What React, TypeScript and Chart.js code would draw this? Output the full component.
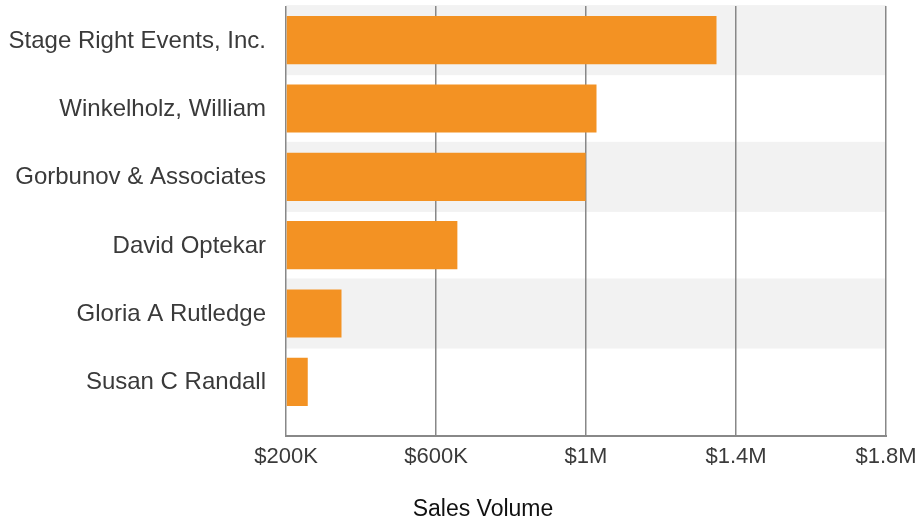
import React, { useEffect, useRef } from 'react';
import { Chart, registerables } from 'chart.js';

Chart.register(...registerables);

const categories = [
  'Stage Right Events, Inc.',
  'Winkelholz, William',
  'Gorbunov & Associates',
  'David Optekar',
  'Gloria A Rutledge',
  'Susan C Randall',
];
const salesVolume = [1348000, 1028000, 999000, 657000, 348000, 258000];
const xTickValues = [200000, 600000, 1000000, 1400000, 1800000];
const xTickLabels = ['$200K', '$600K', '$1M', '$1.4M', '$1.8M'];
const axisTitle = 'Sales Volume';

const FONT = '"Liberation Sans", Arial, Helvetica, sans-serif';
const BAR = '#F39223';
const BAND = '#F2F2F2';
const GRID = '#888888';
const TICK_EXT = 20;

export default function App() {
  const ref = useRef<HTMLCanvasElement | null>(null);

  useEffect(() => {
    if (!ref.current) return;

    const bandsPlugin = {
      id: 'bands',
      beforeDraw(chart: any) {
        const { ctx, chartArea, scales } = chart;
        const y = scales.y;
        const step = y.height / categories.length;
        const h = step * 1.025;
        ctx.save();
        ctx.fillStyle = BAND;
        categories.forEach((_, i) => {
          if (i % 2 === 0) {
            const c = y.getPixelForValue(i);
            ctx.fillRect(chartArea.left, c - h / 2, chartArea.right - chartArea.left, h);
          }
        });
        ctx.restore();
      },
    };

    const axisPlugin = {
      id: 'axisLineTitle',
      afterDraw(chart: any) {
        const { ctx, chartArea } = chart;
        const yLine = chartArea.bottom + TICK_EXT;
        ctx.save();
        ctx.strokeStyle = GRID;
        ctx.lineWidth = 2;
        ctx.beginPath();
        ctx.moveTo(chartArea.left - 1, yLine);
        ctx.lineTo(chartArea.right + 1, yLine);
        ctx.stroke();
        ctx.fillStyle = '#111111';
        ctx.font = `23px ${FONT}`;
        ctx.textAlign = 'center';
        ctx.textBaseline = 'alphabetic';
        ctx.fillText(axisTitle, 483, 516);
        ctx.restore();
      },
    };

    const chart = new Chart(ref.current, {
      type: 'bar',
      data: {
        labels: categories,
        datasets: [
          {
            data: salesVolume,
            backgroundColor: BAR,
            borderWidth: 0,
            base: 200000,
            barPercentage: 0.705,
            categoryPercentage: 1,
          } as any,
        ],
      },
      options: {
        indexAxis: 'y',
        animation: false,
        responsive: false,
        maintainAspectRatio: false,
        layout: { padding: { top: 6, right: 35, left: 0, bottom: 0 } },
        plugins: {
          legend: { display: false },
          tooltip: { enabled: false },
          title: { display: false },
        },
        scales: {
          x: {
            type: 'linear',
            min: 200000,
            max: 1800000,
            z: 1,
            afterBuildTicks(scale: any) {
              scale.ticks = xTickValues.map((v) => ({ value: v }));
            },
            afterFit(scale: any) {
              scale.height = 107;
              scale.paddingLeft = 0;
              scale.paddingRight = 0;
            },
            grid: {
              display: true,
              color: GRID,
              lineWidth: 1.5,
              drawTicks: true,
              tickLength: TICK_EXT,
              tickColor: GRID,
              tickWidth: 1.5,
            },
            border: { display: false },
            ticks: {
              autoSkip: false,
              maxRotation: 0,
              padding: 8,
              color: '#3a3a3a',
              font: { family: FONT, size: 22 },
              callback(value: any) {
                const idx = xTickValues.indexOf(Number(value));
                return idx >= 0 ? xTickLabels[idx] : '';
              },
            },
          },
          y: {
            type: 'category',
            offset: true,
            afterFit(scale: any) {
              scale.width = 286;
              scale.paddingTop = 0;
              scale.paddingBottom = 0;
            },
            grid: { display: false, drawTicks: false },
            border: { display: false },
            ticks: {
              padding: 20,
              labelOffset: 1,
              color: '#3a3a3a',
              font: { family: FONT, size: 24 },
            },
          },
        },
      },
      plugins: [bandsPlugin, axisPlugin],
    } as any);

    return () => chart.destroy();
  }, []);

  return (
    <div style={{ position: 'fixed', left: 0, top: 0, width: 921, height: 523, background: '#ffffff' }}>
      <canvas ref={ref} width={921} height={523} style={{ width: 921, height: 523, display: 'block' }} />
    </div>
  );
}
